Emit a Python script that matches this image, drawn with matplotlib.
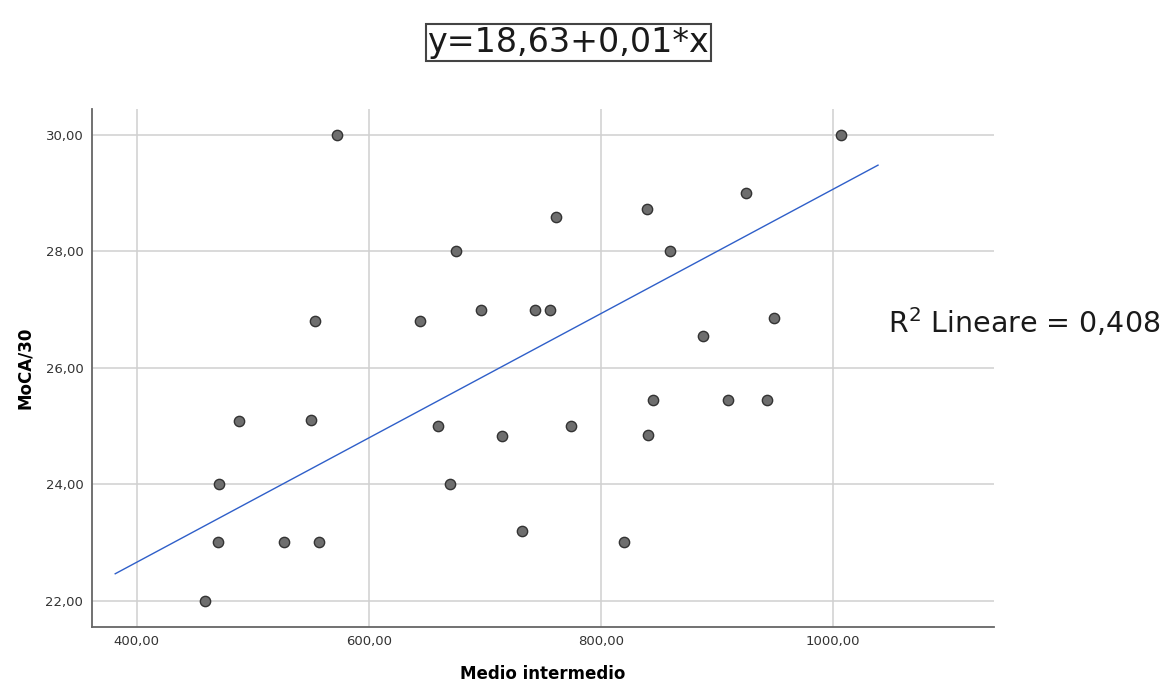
import matplotlib as mpl
mpl.use('Agg')
import matplotlib.pyplot as plt
from matplotlib.ticker import FixedLocator, FuncFormatter

# values
medio = [572.7, 1006.6, 924.6, 839.6, 761.3, 674.9, 859.7, 697.0, 743.5, 755.8,
         949.0, 553.8, 643.9, 887.8, 845.1, 909.4, 943.0, 487.8, 550.1, 659.7,
         774.5, 715.1, 840.8, 470.6, 669.7, 732.3, 469.7, 526.6, 556.9, 819.8,
         459.1]
moca = [30.0, 30.0, 29.0, 28.73, 28.59, 28.0, 28.0, 27.0, 27.0, 27.0,
        26.86, 26.80, 26.80, 26.55, 25.44, 25.44, 25.44, 25.09, 25.10, 25.0,
        25.0, 24.83, 24.85, 24.0, 24.0, 23.19, 23.0, 23.0, 23.0, 23.0,
        22.0]

# fit line end points as drawn in the reference
fit_x = [381.6, 1038.5]
fit_y = [22.46, 29.48]

x_ticks = [400, 600, 800, 1000]
y_ticks = [22, 24, 26, 28, 30]

equation = 'y=18,63+0,01*x'
r2_text = 'R$^2$ Lineare = 0,408'


def comma_fmt(v, pos):
    return f'{v:.2f}'.replace('.', ',')


fig = plt.figure(figsize=(11.66, 6.83), dpi=100)
ax = fig.add_axes([0.0786, 0.0824, 0.7739, 0.7576])

ax.set_xlim(361.3, 1138.4)
ax.set_ylim(21.55, 30.44)

ax.xaxis.set_major_locator(FixedLocator(x_ticks))
ax.yaxis.set_major_locator(FixedLocator(y_ticks))
ax.xaxis.set_major_formatter(FuncFormatter(comma_fmt))
ax.yaxis.set_major_formatter(FuncFormatter(comma_fmt))
ax.tick_params(length=0, labelsize=9.5, colors='#333333', pad=6)

ax.grid(True, color='#d0d0d0', linewidth=1.1)
ax.set_axisbelow(True)
for side in ['top', 'right']:
    ax.spines[side].set_visible(False)
for side in ['left', 'bottom']:
    ax.spines[side].set_color('#666666')
    ax.spines[side].set_linewidth(1.3)

ax.plot(fit_x, fit_y, color='#2f5fc9', linewidth=1.0, zorder=2)
ax.scatter(medio, moca, s=55, facecolor='#6e6e6e', edgecolor='#333333',
           linewidth=1.0, zorder=3)

ax.set_xlabel('Medio intermedio', fontsize=12, fontweight='bold', labelpad=12)
ax.set_ylabel('MoCA/30', fontsize=12, fontweight='bold', labelpad=8)

fig.text(0.4873, 0.938, equation, fontsize=24, ha='center', va='center',
         color='#1a1a1a',
         bbox=dict(boxstyle='square,pad=0.05', facecolor='white',
                   edgecolor='#444444', linewidth=1.5))
fig.text(0.7615, 0.5275, r2_text, fontsize=20.5, ha='left', va='center',
         color='#1a1a1a')

plt.savefig('out.png', dpi=100)
